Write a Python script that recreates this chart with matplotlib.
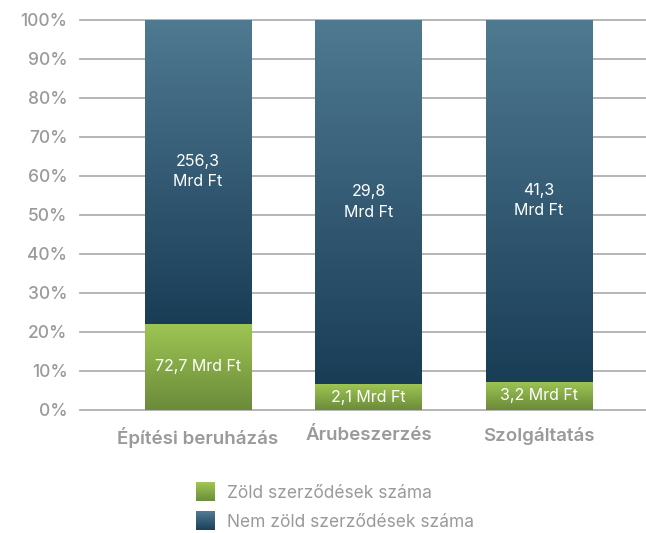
import numpy as np
import matplotlib
matplotlib.use("Agg")
import matplotlib.pyplot as plt
from matplotlib.colors import LinearSegmentedColormap, to_rgb
from matplotlib.patches import Rectangle
from matplotlib.legend_handler import HandlerBase

plt.rcParams['font.family'] = ['Inter', 'DejaVu Sans']

categories = ["Építési beruházás", "Árubeszerzés", "Szolgáltatás"]
green_values = [72.7, 2.1, 3.2]      # Mrd Ft
other_values = [256.3, 29.8, 41.3]   # Mrd Ft
green_labels = ["72,7 Mrd Ft", "2,1 Mrd Ft", "3,2 Mrd Ft"]
other_labels = ["256,3\nMrd Ft", "29,8\nMrd Ft", "41,3\nMrd Ft"]
yticks = [0, 0.1, 0.2, 0.3, 0.4, 0.5, 0.6, 0.7, 0.8, 0.9, 1.0]
ytick_labels = ["0%", "10%", "20%", "30%", "40%", "50%", "60%", "70%", "80%", "90%", "100%"]
legend_labels = ["Zöld szerződések száma", "Nem zöld szerződések száma"]

GREEN = ("#9ec553", "#6b8b3a")   # top, bottom
BLUE = ("#4f7a92", "#1a3d56")
TICK_GRAY = "#9a9a9c"
GRID_GRAY = "#b0b0b0"

fig = plt.figure(figsize=(6.46, 5.33), dpi=100)
ax = fig.add_axes([80 / 646, 1 - 410 / 533, 1 - 80 / 646, 390.5 / 533])

width = 0.625
x = np.arange(len(categories))


def gradient_cmap(top, bottom):
    return LinearSegmentedColormap.from_list("g", [bottom, top])


def gradient_bar(xc, y0, y1, colors):
    grad = np.linspace(0, 1, 256).reshape(-1, 1)
    ax.imshow(grad, cmap=gradient_cmap(*colors), aspect="auto", origin="lower",
              extent=(xc - width / 2, xc + width / 2, y0, y1), zorder=2,
              interpolation="bilinear")


totals = [g + o for g, o in zip(green_values, other_values)]
for i, (g, o, t) in enumerate(zip(green_values, other_values, totals)):
    gs = g / t
    gradient_bar(x[i], 0, gs, GREEN)
    gradient_bar(x[i], gs, 1.0, BLUE)
    ax.text(x[i], gs / 2, green_labels[i], ha="center", va="center",
            color="white", fontsize=11.5, zorder=3)
    ax.text(x[i], (gs + 1) / 2, other_labels[i], ha="center", va="center",
            color="white", fontsize=11.5, linespacing=1.45, zorder=3)

ax.set_xlim(-0.6915, 2.628)
ax.set_ylim(0, 1)
ax.set_yticks(yticks)
ax.set_yticklabels(ytick_labels, fontweight="medium")
ax.set_xticks(x)
ax.set_xticklabels(categories, fontweight="semibold")
for y in yticks:
    ax.axhline(y, color=GRID_GRAY, lw=1.3, zorder=1, clip_on=False)
for s in ax.spines.values():
    s.set_visible(False)
ax.tick_params(axis="y", length=0, pad=9, labelsize=12.5, labelcolor=TICK_GRAY)
ax.tick_params(axis="x", length=0, pad=12, labelsize=13.5, labelcolor=TICK_GRAY)


class GradientHandler(HandlerBase):
    def __init__(self, colors):
        super().__init__()
        self.colors = colors

    def create_artists(self, legend, orig_handle, xdescent, ydescent,
                       width, height, fontsize, trans):
        size = height * 1.25
        x0 = -xdescent + (width - size) / 2
        y0 = -ydescent + (height - size) / 2
        top = np.array(to_rgb(self.colors[0]))
        bot = np.array(to_rgb(self.colors[1]))
        n = 20
        arts = []
        for k in range(n):
            f = k / (n - 1)
            c = bot * (1 - f) + top * f
            arts.append(Rectangle((x0, y0 + size * k / n), size, size / n + 0.3,
                                  facecolor=c, edgecolor="none", transform=trans))
        return arts


h_green = Rectangle((0, 0), 1, 1)
h_blue = Rectangle((0, 0), 1, 1)
fig.legend([h_green, h_blue], legend_labels,
           handler_map={h_green: GradientHandler(GREEN), h_blue: GradientHandler(BLUE)},
           loc="upper left", bbox_to_anchor=(197 / 646, 1 - 484 / 533),
           frameon=False, fontsize=12.5, labelcolor=TICK_GRAY,
           handlelength=1.0, handleheight=1.0, handletextpad=0.75, labelspacing=0.65,
           borderaxespad=0, borderpad=0)

fig.savefig("out.png", dpi=100)
